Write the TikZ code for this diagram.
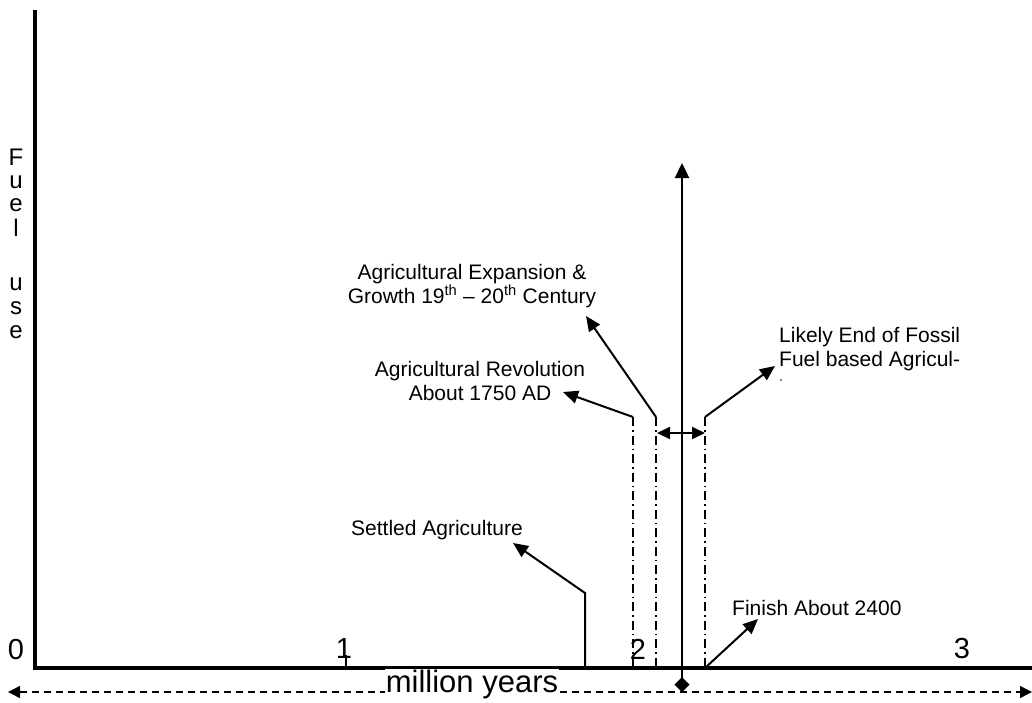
\documentclass[tikz,border=0pt]{standalone}
\usepackage{fontspec}
\setmainfont{Liberation Sans}
\usetikzlibrary{arrows.meta}
\tikzset{
  lbl/.style={font=\fontsize{21}{24}\selectfont, inner sep=0pt},
  num/.style={font=\fontsize{29}{30}\selectfont, inner sep=0pt},
  axis/.style={line width=3.5pt},
  ptr/.style={line width=2pt, -{Triangle[length=15pt,width=13pt]}},
  dashdot/.style={line width=1.6pt, dash pattern=on 9pt off 4pt on 1.5pt off 4pt},
}
\begin{document}
\begin{tikzpicture}[x=1pt,y=-1pt]
\useasboundingbox (0,0) rectangle (1032,702);
% axes
\coordinate (ytop) at (35,10);
\coordinate (O) at (35,668);
\coordinate (xend) at (1032,668);
\draw[axis] (ytop) -- (O) -- (xend);
% labels
\node[num] (n0) at (16,650) {0};
\node[num] (n1) at (344,649) {1};
\node[num] (n2) at (638,649) {2};
\node[num] (n3) at (962,649) {3};
% tick under 1 (continues the stem of the digit)
\coordinate (t1a) at (346,655);
\coordinate (t1b) at (346,668);
\draw[line width=2.6pt] (t1a) -- (t1b);
% dashed double arrow
\coordinate (dl) at (8,692);
\coordinate (dr) at (1032,692);
\draw[line width=1.3pt, dash pattern=on 7pt off 5pt, {Triangle[length=12pt,width=12pt]}-{Triangle[length=12pt,width=12pt]}] (dl) -- (dr);
\node[lbl, fill=white, inner sep=1pt, font=\fontsize{31}{32}\selectfont] (my) at (472,684) {million years};
% central arrow
\coordinate (dia) at (682,692);
\coordinate (ctop) at (682,163);
\draw[line width=2.4pt, {Diamond[length=15pt,width=15pt]}-{Triangle[length=15pt,width=14pt]}] (dia) -- (ctop);
% dash-dot lines
\coordinate (a1t) at (633,417); \coordinate (a1b) at (633,668);
\coordinate (a2t) at (656,417); \coordinate (a2b) at (656,668);
\coordinate (a3t) at (705,417); \coordinate (a3b) at (705,668);
\draw[dashdot] (a1t) -- (a1b);
\draw[dashdot] (a2t) -- (a2b);
\draw[dashdot] (a3t) -- (a3b);
% double arrow between
\coordinate (ba) at (657,433);
\coordinate (bb) at (705,433);
\draw[line width=2pt, {Triangle[length=13pt,width=12pt]}-{Triangle[length=13pt,width=12pt]}] (ba) -- (bb);
% Fuel use
\foreach \ch/\yy in {F/157,u/182,e/205,l/228,u/284,s/308,e/332}{
  \node[lbl, font=\fontsize{24}{24}\selectfont] at (16,\yy) {\ch};
}
% text nodes
\node[lbl, align=center] (exp) at (472,286) {Agricultural Expansion \&\\Growth 19\textsuperscript{th} -- 20\textsuperscript{th} Century};
\node[lbl, align=center] (rev) at (480,381) {Agricultural Revolution\\About 1750 AD};
\node[lbl, align=left, anchor=west] (end) at (779,349) {Likely End of Fossil\\Fuel based Agricul-};
\fill (781,380) circle (0.9pt);
\node[lbl] (set) at (437,530) {Settled Agriculture};
\node[lbl, anchor=west] (fin) at (732,608) {Finish About 2400};
% pointer arrows
\coordinate (revtip) at (563,392);
\coordinate (exptip) at (586,316);
\coordinate (endtip) at (775,366);
\coordinate (settip) at (513,543);
\coordinate (setk) at (585,593);
\coordinate (setb) at (585,668);
\coordinate (fintip) at (758,619);
\draw[ptr] (a1t) -- (revtip);
\draw[ptr] (a2t) -- (exptip);
\draw[ptr] (a3t) -- (endtip);
\draw[ptr] (setb) -- (setk) -- (settip);
\draw[ptr] (a3b) -- (fintip);
\end{tikzpicture}
\end{document}
